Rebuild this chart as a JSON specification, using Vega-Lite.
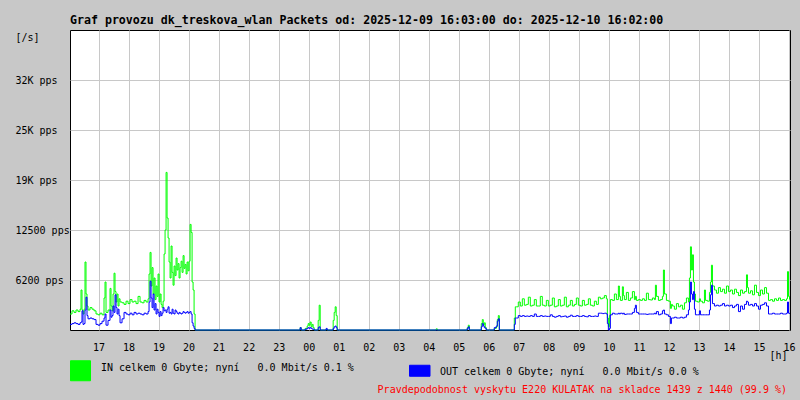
{
  "$schema": "https://vega.github.io/schema/vega-lite/v6.json",
  "width": 720,
  "height": 300,
  "autosize": {"type": "none"},
  "padding": {"left": 70, "top": 30, "right": 10, "bottom": 70},
  "background": "#c8c8c8",
  "config": {
    "view": {"fill": "white", "stroke": "black", "strokeWidth": 1},
    "font": "DejaVu Sans Mono"
  },
  "title": {
    "text": "Graf provozu dk_treskova_wlan Packets od: 2025-12-09 16:03:00 do: 2025-12-10 16:02:00",
    "anchor": "start",
    "frame": "group",
    "font": "DejaVu Sans Mono",
    "fontSize": 11.6,
    "fontWeight": "bold",
    "color": "black",
    "baseline": "alphabetic",
    "offset": -6
  },
  "data": {
    "values": [
      {"m":0,"IN":2000,"OUT":700},{"m":4,"IN":2400,"OUT":800},{"m":8,"IN":2200,"OUT":900},{"m":12,"IN":2500,"OUT":800},
      {"m":16,"IN":2300,"OUT":700},{"m":20,"IN":2600,"OUT":900},{"m":22,"IN":5000,"OUT":1000},{"m":24,"IN":2500,"OUT":2400},
      {"m":26,"IN":2000,"OUT":700},{"m":28,"IN":2600,"OUT":800},{"m":30,"IN":8500,"OUT":2500},{"m":32,"IN":4500,"OUT":4100},
      {"m":34,"IN":3000,"OUT":1800},{"m":36,"IN":2500,"OUT":1400},{"m":40,"IN":2800,"OUT":1500},{"m":44,"IN":2600,"OUT":1400},
      {"m":48,"IN":2400,"OUT":1300},{"m":52,"IN":2000,"OUT":700},{"m":56,"IN":1900,"OUT":600},{"m":60,"IN":2100,"OUT":800},
      {"m":64,"IN":1900,"OUT":1100},{"m":68,"IN":4000,"OUT":1500},{"m":70,"IN":6000,"OUT":2000},{"m":72,"IN":2200,"OUT":600},
      {"m":76,"IN":2500,"OUT":1200},{"m":80,"IN":5200,"OUT":2500},{"m":82,"IN":3000,"OUT":1600},{"m":84,"IN":2400,"OUT":1800},
      {"m":86,"IN":4500,"OUT":3000},{"m":88,"IN":7100,"OUT":2200},{"m":90,"IN":4800,"OUT":4400},{"m":92,"IN":3500,"OUT":2800},
      {"m":94,"IN":4500,"OUT":2000},{"m":96,"IN":3000,"OUT":2600},{"m":98,"IN":3900,"OUT":1800},{"m":100,"IN":3500,"OUT":900},
      {"m":104,"IN":3400,"OUT":1400},{"m":108,"IN":3200,"OUT":2200},{"m":112,"IN":3600,"OUT":2000},{"m":116,"IN":3300,"OUT":1900},
      {"m":120,"IN":3800,"OUT":2100},{"m":124,"IN":3500,"OUT":1900},{"m":128,"IN":3600,"OUT":2200},{"m":132,"IN":3300,"OUT":2000},
      {"m":136,"IN":4200,"OUT":2100},{"m":140,"IN":3500,"OUT":2000},{"m":144,"IN":3400,"OUT":1900},{"m":148,"IN":3700,"OUT":2100},
      {"m":152,"IN":3500,"OUT":2000},{"m":156,"IN":3900,"OUT":2300},{"m":158,"IN":7000,"OUT":3500},{"m":160,"IN":9700,"OUT":6100},
      {"m":162,"IN":5500,"OUT":4000},{"m":164,"IN":7800,"OUT":2800},{"m":166,"IN":4500,"OUT":4500},{"m":168,"IN":6500,"OUT":2500},
      {"m":170,"IN":3800,"OUT":3300},{"m":172,"IN":5500,"OUT":2000},{"m":174,"IN":4200,"OUT":2600},{"m":176,"IN":7000,"OUT":2200},
      {"m":178,"IN":3500,"OUT":1700},{"m":180,"IN":4500,"OUT":2300},{"m":182,"IN":3200,"OUT":1800},{"m":184,"IN":2800,"OUT":2100},
      {"m":186,"IN":3600,"OUT":2800},{"m":188,"IN":9500,"OUT":2400},{"m":190,"IN":12500,"OUT":2500},{"m":192,"IN":19700,"OUT":2200},
      {"m":194,"IN":14000,"OUT":2600},{"m":196,"IN":11500,"OUT":2900},{"m":198,"IN":8500,"OUT":2100},{"m":200,"IN":6500,"OUT":2200},
      {"m":202,"IN":10500,"OUT":2000},{"m":204,"IN":7200,"OUT":2600},{"m":206,"IN":5600,"OUT":2100},{"m":208,"IN":8000,"OUT":2000},
      {"m":210,"IN":6800,"OUT":2500},{"m":212,"IN":9000,"OUT":2300},{"m":214,"IN":7500,"OUT":2100},{"m":216,"IN":8300,"OUT":2000},
      {"m":218,"IN":6500,"OUT":2200},{"m":220,"IN":7800,"OUT":2100},{"m":222,"IN":8600,"OUT":2000},{"m":224,"IN":7200,"OUT":2100},
      {"m":226,"IN":9300,"OUT":2300},{"m":228,"IN":7700,"OUT":2200},{"m":230,"IN":8200,"OUT":2100},{"m":232,"IN":7000,"OUT":2200},
      {"m":234,"IN":8500,"OUT":2300},{"m":236,"IN":7400,"OUT":2100},{"m":238,"IN":8600,"OUT":2200},{"m":240,"IN":13200,"OUT":2300},
      {"m":242,"IN":12200,"OUT":2000},{"m":244,"IN":6000,"OUT":900},{"m":246,"IN":5000,"OUT":500},{"m":248,"IN":2000,"OUT":200},
      {"m":250,"IN":0,"OUT":0},{"m":456,"IN":0,"OUT":0},{"m":460,"IN":300,"OUT":300},{"m":462,"IN":0,"OUT":0},
      {"m":470,"IN":200,"OUT":100},{"m":474,"IN":500,"OUT":200},{"m":476,"IN":800,"OUT":300},{"m":478,"IN":600,"OUT":200},
      {"m":480,"IN":1000,"OUT":300},{"m":482,"IN":400,"OUT":200},{"m":484,"IN":700,"OUT":100},{"m":486,"IN":300,"OUT":100},
      {"m":488,"IN":0,"OUT":0},{"m":496,"IN":1200,"OUT":300},{"m":498,"IN":3100,"OUT":400},{"m":500,"IN":0,"OUT":0},
      {"m":512,"IN":100,"OUT":200},{"m":514,"IN":0,"OUT":0},{"m":526,"IN":1200,"OUT":200},{"m":528,"IN":2200,"OUT":400},
      {"m":530,"IN":2900,"OUT":500},{"m":532,"IN":1800,"OUT":300},{"m":534,"IN":0,"OUT":0},{"m":732,"IN":150,"OUT":0},
      {"m":734,"IN":0,"OUT":0},{"m":794,"IN":300,"OUT":200},{"m":796,"IN":600,"OUT":400},{"m":798,"IN":0,"OUT":0},
      {"m":822,"IN":800,"OUT":400},{"m":824,"IN":1300,"OUT":800},{"m":826,"IN":600,"OUT":500},{"m":828,"IN":900,"OUT":300},
      {"m":830,"IN":300,"OUT":200},{"m":832,"IN":0,"OUT":0},{"m":848,"IN":200,"OUT":300},{"m":852,"IN":400,"OUT":500},
      {"m":854,"IN":1300,"OUT":1100},{"m":856,"IN":1800,"OUT":1400},{"m":858,"IN":0,"OUT":0},{"m":888,"IN":1500,"OUT":700},
      {"m":890,"IN":2900,"OUT":1500},{"m":892,"IN":2900,"OUT":1500},{"m":896,"IN":3500,"OUT":1800},{"m":900,"IN":3000,"OUT":1700},
      {"m":904,"IN":3900,"OUT":1800},{"m":908,"IN":3100,"OUT":1700},{"m":912,"IN":3200,"OUT":1750},{"m":916,"IN":4100,"OUT":1700},
      {"m":920,"IN":3000,"OUT":1800},{"m":924,"IN":3100,"OUT":1700},{"m":928,"IN":3800,"OUT":2000},{"m":932,"IN":3000,"OUT":1700},
      {"m":936,"IN":3000,"OUT":1700},{"m":940,"IN":4200,"OUT":1800},{"m":944,"IN":3100,"OUT":1700},{"m":948,"IN":3000,"OUT":1750},
      {"m":952,"IN":3700,"OUT":1700},{"m":956,"IN":3000,"OUT":1700},{"m":960,"IN":3100,"OUT":1900},{"m":964,"IN":4000,"OUT":1700},
      {"m":968,"IN":2900,"OUT":1600},{"m":972,"IN":3000,"OUT":1700},{"m":976,"IN":3800,"OUT":1800},{"m":980,"IN":3000,"OUT":1650},
      {"m":984,"IN":3100,"OUT":1700},{"m":988,"IN":4100,"OUT":1750},{"m":992,"IN":2900,"OUT":1600},{"m":996,"IN":3100,"OUT":1700},
      {"m":1000,"IN":3700,"OUT":1850},{"m":1004,"IN":3000,"OUT":1700},{"m":1008,"IN":3200,"OUT":1700},{"m":1012,"IN":4000,"OUT":1800},
      {"m":1016,"IN":3100,"OUT":1700},{"m":1020,"IN":3000,"OUT":1700},{"m":1024,"IN":3700,"OUT":1800},{"m":1028,"IN":3100,"OUT":1700},
      {"m":1032,"IN":3200,"OUT":1650},{"m":1036,"IN":3900,"OUT":1800},{"m":1040,"IN":3100,"OUT":1700},{"m":1044,"IN":3000,"OUT":1700},
      {"m":1048,"IN":3600,"OUT":1750},{"m":1052,"IN":3200,"OUT":1700},{"m":1056,"IN":4100,"OUT":2100},{"m":1060,"IN":3900,"OUT":2100},
      {"m":1064,"IN":4000,"OUT":2050},{"m":1068,"IN":4300,"OUT":2100},{"m":1072,"IN":3900,"OUT":2000},{"m":1074,"IN":1500,"OUT":800},
      {"m":1076,"IN":400,"OUT":0},{"m":1078,"IN":1800,"OUT":200},{"m":1080,"IN":3800,"OUT":1900},{"m":1084,"IN":3700,"OUT":2100},
      {"m":1088,"IN":4500,"OUT":2000},{"m":1092,"IN":3800,"OUT":2000},{"m":1096,"IN":5500,"OUT":2100},{"m":1098,"IN":4200,"OUT":2000},
      {"m":1100,"IN":3700,"OUT":2100},{"m":1104,"IN":5400,"OUT":2000},{"m":1106,"IN":4300,"OUT":2100},{"m":1108,"IN":3800,"OUT":1950},
      {"m":1112,"IN":4700,"OUT":2000},{"m":1116,"IN":3700,"OUT":2000},{"m":1120,"IN":4000,"OUT":2000},{"m":1124,"IN":4800,"OUT":2200},
      {"m":1128,"IN":3800,"OUT":2700},{"m":1130,"IN":4200,"OUT":3100},{"m":1132,"IN":3700,"OUT":2200},{"m":1136,"IN":3800,"OUT":2000},
      {"m":1140,"IN":3700,"OUT":2000},{"m":1144,"IN":3900,"OUT":2000},{"m":1148,"IN":3700,"OUT":2000},{"m":1152,"IN":4600,"OUT":1950},
      {"m":1156,"IN":3800,"OUT":2000},{"m":1160,"IN":3750,"OUT":2000},{"m":1164,"IN":4000,"OUT":2000},{"m":1168,"IN":3800,"OUT":2100},
      {"m":1170,"IN":5600,"OUT":2000},{"m":1172,"IN":4200,"OUT":2300},{"m":1176,"IN":3700,"OUT":1900},{"m":1180,"IN":3800,"OUT":2000},
      {"m":1184,"IN":4200,"OUT":2400},{"m":1186,"IN":7500,"OUT":2500},{"m":1188,"IN":4500,"OUT":2000},{"m":1192,"IN":3700,"OUT":1900},
      {"m":1196,"IN":3600,"OUT":1700},{"m":1200,"IN":2700,"OUT":800},{"m":1202,"IN":3200,"OUT":1500},{"m":1204,"IN":3000,"OUT":1500},
      {"m":1208,"IN":2600,"OUT":1600},{"m":1212,"IN":3300,"OUT":1500},{"m":1216,"IN":2900,"OUT":1500},{"m":1220,"IN":3100,"OUT":1600},
      {"m":1224,"IN":2600,"OUT":1500},{"m":1228,"IN":3400,"OUT":1600},{"m":1232,"IN":4000,"OUT":1900},{"m":1236,"IN":3500,"OUT":2500},
      {"m":1238,"IN":6500,"OUT":3500},{"m":1240,"IN":10400,"OUT":6000},{"m":1242,"IN":7500,"OUT":4500},{"m":1244,"IN":9400,"OUT":3800},
      {"m":1246,"IN":6000,"OUT":4800},{"m":1248,"IN":4500,"OUT":2600},{"m":1250,"IN":3600,"OUT":1900},{"m":1254,"IN":3500,"OUT":1900},
      {"m":1258,"IN":3900,"OUT":2400},{"m":1260,"IN":3600,"OUT":1900},{"m":1264,"IN":3400,"OUT":1900},{"m":1268,"IN":5000,"OUT":1900},
      {"m":1270,"IN":3700,"OUT":1900},{"m":1274,"IN":3600,"OUT":1900},{"m":1278,"IN":4700,"OUT":2500},{"m":1280,"IN":6000,"OUT":4400},
      {"m":1282,"IN":8100,"OUT":5600},{"m":1284,"IN":5500,"OUT":3300},{"m":1288,"IN":5000,"OUT":3000},{"m":1292,"IN":4600,"OUT":3100},
      {"m":1296,"IN":5300,"OUT":3000},{"m":1300,"IN":4800,"OUT":3100},{"m":1304,"IN":5100,"OUT":3300},{"m":1308,"IN":4600,"OUT":3000},
      {"m":1312,"IN":5500,"OUT":3100},{"m":1316,"IN":4800,"OUT":3000},{"m":1320,"IN":5000,"OUT":3100},{"m":1324,"IN":4500,"OUT":2800},
      {"m":1328,"IN":5100,"OUT":3000},{"m":1332,"IN":4700,"OUT":3200},{"m":1336,"IN":4300,"OUT":2300},{"m":1340,"IN":5000,"OUT":3000},
      {"m":1344,"IN":4600,"OUT":2600},{"m":1348,"IN":4800,"OUT":3200},{"m":1352,"IN":6900,"OUT":3600},{"m":1354,"IN":5300,"OUT":3500},
      {"m":1356,"IN":4600,"OUT":3100},{"m":1360,"IN":4900,"OUT":3200},{"m":1364,"IN":4400,"OUT":3000},{"m":1368,"IN":5600,"OUT":3300},
      {"m":1372,"IN":4700,"OUT":3000},{"m":1376,"IN":4300,"OUT":2600},{"m":1380,"IN":5000,"OUT":3100},{"m":1384,"IN":4500,"OUT":3200},
      {"m":1388,"IN":5300,"OUT":3400},{"m":1392,"IN":4600,"OUT":3000},{"m":1396,"IN":3700,"OUT":2000},{"m":1400,"IN":3800,"OUT":2000},
      {"m":1404,"IN":3600,"OUT":2100},{"m":1408,"IN":3900,"OUT":2000},{"m":1412,"IN":3700,"OUT":2000},{"m":1416,"IN":4000,"OUT":2000},
      {"m":1420,"IN":3700,"OUT":2100},{"m":1424,"IN":3800,"OUT":2000},{"m":1428,"IN":3700,"OUT":2000},{"m":1432,"IN":3900,"OUT":2100},
      {"m":1434,"IN":7300,"OUT":3500},{"m":1436,"IN":4200,"OUT":2100},{"m":1438,"IN":3800,"OUT":2000}
    ]
  },
  "transform": [{"fold": ["IN", "OUT"], "as": ["serie", "v"]}],
  "mark": {"type": "line", "interpolate": "step-after", "strokeWidth": 1},
  "encoding": {
    "x": {
      "field": "m",
      "type": "quantitative",
      "scale": {"domain": [0, 1439], "nice": false, "zero": false},
      "axis": {
        "values": [57,117,177,237,297,357,417,477,537,597,657,717,777,837,897,957,1017,1077,1137,1197,1257,1317,1377,1437],
        "labelExpr": "slice('0' + ((16 + (datum.value + 3) / 60) % 24), -2)",
        "grid": true,
        "gridColor": "#c8c8c8",
        "gridWidth": 1,
        "gridOpacity": 1,
        "ticks": false,
        "domain": false,
        "labelFont": "DejaVu Sans Mono",
        "labelFontSize": 10,
        "labelColor": "black",
        "labelPadding": 12,
        "labelFlush": false,
        "labelOverlap": false,
        "title": "[h]",
        "titleFont": "DejaVu Sans Mono",
        "titleFontSize": 10,
        "titleFontWeight": "normal",
        "titleColor": "black",
        "titleX": 717,
        "titleY": 25,
        "titleAlign": "right",
        "titleBaseline": "middle",
        "titleAnchor": null
      }
    },
    "y": {
      "field": "v",
      "type": "quantitative",
      "scale": {"domain": [0, 37500], "nice": false, "zero": true},
      "axis": {
        "values": [6250, 12500, 18750, 25000, 31250],
        "labelExpr": "datum.value == 6250 ? '6200 pps' : datum.value == 12500 ? '12500 pps' : datum.value == 18750 ? '19K pps' : datum.value == 25000 ? '25K pps' : '32K pps'",
        "grid": true,
        "gridColor": "#c8c8c8",
        "gridWidth": 1,
        "gridOpacity": 1,
        "ticks": false,
        "domain": false,
        "labelFont": "DejaVu Sans Mono",
        "labelFontSize": 10,
        "labelColor": "black",
        "labelAlign": "left",
        "labelBaseline": "middle",
        "labelPadding": 55,
        "labelOverlap": false,
        "labelFlush": false,
        "title": "[/s]",
        "titleAngle": 0,
        "titleFont": "DejaVu Sans Mono",
        "titleFontSize": 10,
        "titleFontWeight": "normal",
        "titleColor": "black",
        "titleX": -55,
        "titleY": 7,
        "titleAlign": "left",
        "titleBaseline": "middle"
      }
    },
    "color": {
      "field": "serie",
      "type": "nominal",
      "scale": {"domain": ["IN", "OUT"], "range": ["#00ff00", "#0000ff"]},
      "legend": {
        "orient": "none",
        "legendX": 0,
        "legendY": 330,
        "direction": "horizontal",
        "columns": 2,
        "columnPadding": 53,
        "padding": 0,
        "symbolType": "square",
        "symbolSize": 400,
        "symbolStrokeWidth": 1,
        "labelOffset": 10,
        "labelLimit": 1000,
        "labelFont": "DejaVu Sans Mono",
        "labelFontSize": 10,
        "labelColor": "black",
        "labelExpr": "datum.value == 'IN' ? 'IN celkem 0 Gbyte; nyní\u00a0\u00a0\u00a00.0 Mbit/s 0.1 %' : 'OUT celkem 0 Gbyte; nyní\u00a0\u00a0\u00a00.0 Mbit/s 0.0 %'",
        "title": "Pravdepodobnost vyskytu E220 KULATAK na skladce 1439 z 1440 (99.9 %)",
        "titleOrient": "bottom",
        "titleAnchor": "end",
        "titleFont": "DejaVu Sans Mono",
        "titleFontSize": 10,
        "titleFontWeight": "normal",
        "titleColor": "#ff0000",
        "titleLimit": 1000,
        "titlePadding": 2,
        "encode": {
          "symbols": {"update": {
            "fill": {"scale": "color", "field": "value"},
            "fillOpacity": {"value": 1},
            "opacity": {"value": 1},
            "stroke": {"signal": "datum.value == 'IN' ? 'black' : 'transparent'"},
            "shape": {"signal": "datum.value == 'OUT' ? 'M-1,-1H1.05V0.1H-1Z' : 'square'"}
          }},
          "labels": {"update": {"dy": {"value": -3}}},
          "title": {"update": {"dx": {"value": 88}}}
        }
      }
    }
  }
}
